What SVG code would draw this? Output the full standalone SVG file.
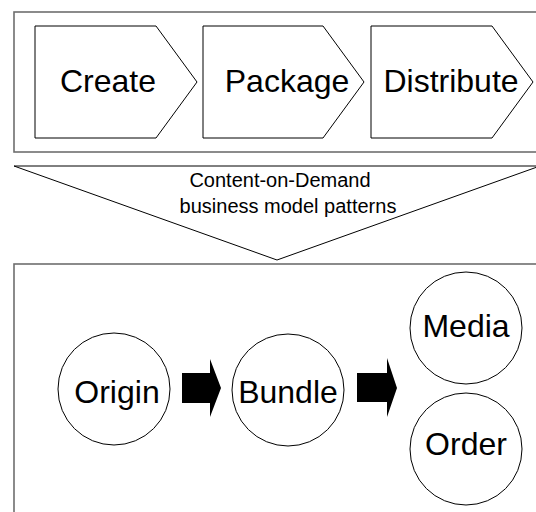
<svg xmlns="http://www.w3.org/2000/svg" width="536" height="512" viewBox="0 0 536 512">
<style>
.frame{fill:#fff;stroke:#6e6e6e;stroke-width:1.6}
.shape{fill:#fff;stroke:#000;stroke-width:1}
.big{font-family:"Liberation Sans",Arial,sans-serif;font-size:32px;fill:#000;text-anchor:middle}
.small{font-family:"Liberation Sans",Arial,sans-serif;font-size:20px;fill:#000;text-anchor:middle}
.arrow{fill:#000;stroke:none}
</style>
<rect width="536" height="512" fill="#fff"/>
<g id="top-frame"><rect class="frame" x="14" y="12" width="530" height="140"/></g>
<g id="create"><polygon class="shape" points="35,26 156,26 197,82 156,138 35,138"/><text class="big" x="108" y="92">Create</text></g>
<g id="package"><polygon class="shape" points="203,26 323,26 364,82 323,138 203,138"/><text class="big" x="287" y="92">Package</text></g>
<g id="distribute"><polygon class="shape" points="371,26 492,26 533,82 492,138 371,138"/><text class="big" x="451" y="92">Distribute</text></g>
<g id="funnel"><polygon class="shape" points="14,166 540,166 277,260"/><text class="small" x="280" y="187">Content-on-Demand</text><text class="small" x="288" y="213">business model patterns</text></g>
<g id="bottom-frame"><rect class="frame" x="14" y="264" width="530" height="260"/></g>
<g id="origin"><circle class="shape" cx="114" cy="389" r="56"/><text class="big" x="117" y="403">Origin</text></g>
<g id="bundle"><circle class="shape" cx="288" cy="390" r="56"/><text class="big" x="288" y="403">Bundle</text></g>
<g id="media"><circle class="shape" cx="466" cy="328" r="56"/><text class="big" x="466" y="337">Media</text></g>
<g id="order"><circle class="shape" cx="466" cy="449" r="56"/><text class="big" x="466" y="455">Order</text></g>
<g id="connectors">
<polygon class="arrow" points="182,373 210,373 210,359 221,388 210,417 210,403 182,403"/>
<polygon class="arrow" points="357,373 387,373 387,358 397,388 387,417 387,402 357,402"/>
</g>
</svg>
